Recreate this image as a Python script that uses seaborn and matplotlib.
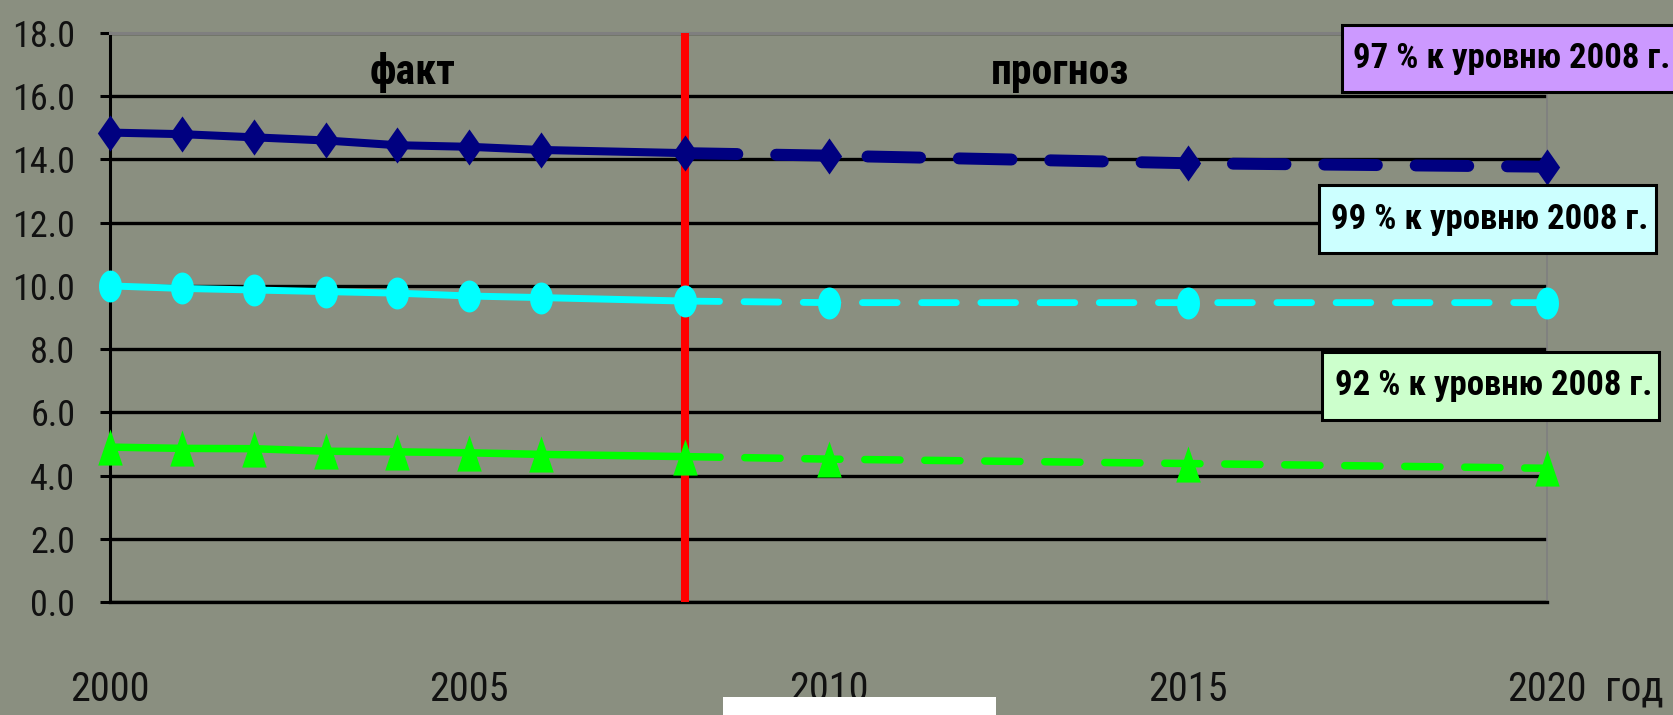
"""
Среднегодовые показатели 2000-2020: факт и прогноз (три ряда).
"""

import numpy as np
import pandas as pd
import matplotlib
matplotlib.use("Agg")
import matplotlib.pyplot as plt
from matplotlib import font_manager as fm
from matplotlib.patches import Rectangle
import seaborn as sns

# ---- data -------------------------------------------------------------
years = [2000, 2001, 2002, 2003, 2004, 2005, 2006, 2008, 2010, 2015, 2020]
navy_vals = [14.85, 14.8, 14.7, 14.6, 14.45, 14.4, 14.3, 14.2, 14.12, 13.88, 13.77]
cyan_vals = [10.0, 9.92, 9.87, 9.82, 9.77, 9.68, 9.63, 9.52, 9.47, 9.47, 9.47]
green_vals = [4.9, 4.86, 4.85, 4.77, 4.75, 4.72, 4.67, 4.6, 4.52, 4.38, 4.23]
split_year = 2008

y_ticks = [0, 2, 4, 6, 8, 10, 12, 14, 16, 18]
x_ticks = [2000, 2005, 2010, 2015, 2020]
period_labels = ["факт", "прогноз"]
box_labels = ["97 % к уровню 2008 г.", "99 % к уровню 2008 г.", "92 % к уровню 2008 г."]

BG = "#8a8f80"
W, H = 1673, 715

# narrowest installed sans family
installed = {f.name for f in fm.fontManager.ttflist}
for cand in ["Liberation Sans Narrow", "Roboto Condensed", "Open Sans Condensed",
             "Liberation Sans", "Roboto"]:
    if cand in installed:
        MAIN_FONT = cand
        break
else:
    MAIN_FONT = "DejaVu Sans"
FONT = [MAIN_FONT, "DejaVu Sans"]

df = pd.DataFrame({"year": years, "navy": navy_vals, "cyan": cyan_vals, "green": green_vals})
fact = df[df["year"] <= split_year]
fcst = df[df["year"] >= split_year]

# markers: tall diamond, tall ellipse, tall triangle
t = np.linspace(0, 2 * np.pi, 40)
DIAMOND = [(-0.7, 0), (0, 1), (0.7, 0), (0, -1)]
ELLIPSE = list(zip(0.72 * np.cos(t), np.sin(t)))
TRIANGLE = [(0, 1), (-0.68, -1), (0.68, -1)]

series = [
    # column, colour, solid lw, dashed lw, dash pattern, marker, marker size
    ("navy", "#000080", 5.8, 8.6, (4.4, 3.25), DIAMOND, 26),
    ("cyan", "#00ffff", 5.0, 4.9, (5.1, 3.6), ELLIPSE, 23),
    ("green", "#00ff00", 5.4, 5.4, (4.7, 3.3), TRIANGLE, 26),
]

sns.set_style("white")
plt.rcParams["font.family"] = FONT
plt.rcParams["text.color"] = "black"

fig = plt.figure(figsize=(W / 100, H / 100), dpi=100)
fig.patch.set_facecolor(BG)
ax = fig.add_axes([110 / W, 1 - 602 / H, (1547 - 110) / W, (602 - 33) / H])
ax.set_facecolor(BG)

for col, color, lw_s, lw_d, dash, marker, ms in series:
    sns.lineplot(data=fact, x="year", y=col, ax=ax, color=color, lw=lw_s,
                 solid_capstyle="round", zorder=4)
    sns.lineplot(data=fcst, x="year", y=col, ax=ax, color=color, lw=lw_d,
                 linestyle=(0, dash), dash_capstyle="round", zorder=4)
    sns.scatterplot(data=df, x="year", y=col, ax=ax, color=color, marker=marker,
                    s=ms ** 2, linewidth=0, zorder=5, clip_on=False)

# boundary between fact and forecast
ax.axvline(split_year, color="#ff0000", lw=5.8, zorder=3)

ax.set_xlim(2000, 2020)
ax.set_ylim(0, 18)
ax.set_yticks(y_ticks)
ax.set_yticklabels([f"{v:.1f}" for v in y_ticks])
ax.set_xticks(x_ticks)
ax.set_xticklabels([str(v) for v in x_ticks])
ax.set_xlabel("")
ax.set_ylabel("")

ax.yaxis.grid(True, color="black", lw=2.4)
ax.xaxis.grid(False)
ax.set_axisbelow(True)
ax.spines["top"].set_color("#7f7f7f")
ax.spines["top"].set_linewidth(2.2)
ax.spines["right"].set_color("#7f7f7f")
ax.spines["right"].set_linewidth(1.2)
ax.spines["left"].set_color("black")
ax.spines["left"].set_linewidth(2.2)
ax.spines["bottom"].set_color("black")
ax.spines["bottom"].set_linewidth(2.4)

ax.tick_params(axis="y", length=7, width=2.2, color="black", pad=18,
               labelsize=26, labelcolor="#111111", left=True)
ax.tick_params(axis="x", length=0, pad=49, labelsize=29, labelcolor="#111111")

ax.text(0.2105, 0.93, period_labels[0], transform=ax.transAxes, ha="center",
        va="center", fontsize=30, fontweight="bold", color="black")
ax.text(0.661, 0.93, period_labels[1], transform=ax.transAxes, ha="center",
        va="center", fontsize=30, fontweight="bold", color="black")

fig.text(1634 / W, 1 - 689 / H, "год", ha="center", va="center",
         fontsize=30, color="#111111")

# percentage boxes: (left, top, right, bottom) in pixels, text left x
boxes = [
    ((1342, 25, 1700, 92), 1353, "#cc99ff"),
    ((1319, 185, 1656, 253), 1331, "#ccffff"),
    ((1322, 352, 1659, 420), 1335, "#ccffcc"),
]
for ((x0, y0, x1, y1), tx, fc), label in zip(boxes, box_labels):
    fig.add_artist(Rectangle((x0 / W, 1 - y1 / H), (x1 - x0) / W, (y1 - y0) / H,
                             transform=fig.transFigure, fc=fc, ec="black",
                             lw=2.2, zorder=10))
    fig.text(tx / W, 1 - (y0 + y1) / 2 / H, label, ha="left", va="center",
             fontsize=25, fontweight="bold", color="black", zorder=11)

# white patch at the bottom
fig.add_artist(Rectangle((723 / W, 0), (996 - 723) / W, 18 / H,
                         transform=fig.transFigure, fc="white", ec="none", zorder=20))

fig.savefig("out.png", dpi=100, facecolor=BG)
